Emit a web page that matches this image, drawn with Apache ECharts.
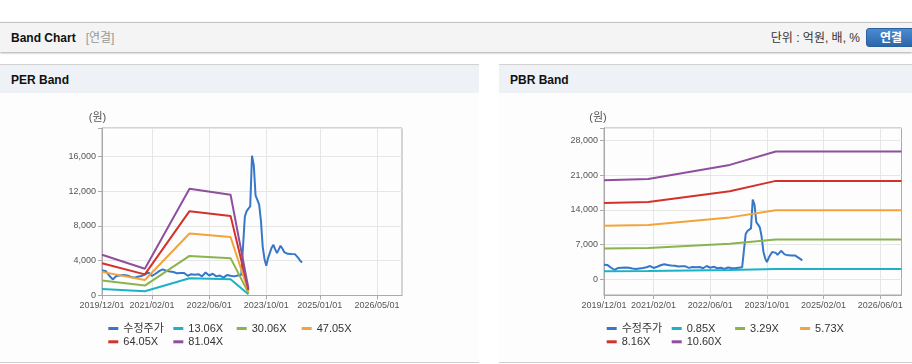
<!DOCTYPE html>
<html><head><meta charset="utf-8">
<script src="https://cdn.jsdelivr.net/npm/echarts@6/dist/echarts.min.js"></script>
<style>
html,body{margin:0;padding:0;width:912px;height:364px;overflow:hidden;background:#fff;font-family:'Liberation Sans','Noto Sans CJK KR',sans-serif;}
.abs{position:absolute;}
#topbar{left:0;top:22px;width:912px;height:29px;background:#f4f4f4;border-top:1px solid #c2c2c2;box-shadow:0 1px 2px rgba(0,0,0,0.35);}
#ttl{left:11px;top:0;height:29px;line-height:30px;font-size:12px;font-weight:bold;color:#111;white-space:nowrap;}
#ttl span{font-weight:normal;color:#999;margin-left:10px;}
#unit{right:52px;top:0;height:29px;line-height:30px;font-size:12px;color:#333;white-space:nowrap;}
#btn{left:866px;top:5px;width:50px;height:19px;line-height:19px;border-radius:3px;background:linear-gradient(#4b8bd1,#2b66ab);border:1px solid #2a5f9e;color:#fff;font-weight:bold;font-size:12px;text-align:center;box-sizing:border-box;}
.phead{top:64px;height:28px;background:#eef1f6;border-top:1px solid #d2d2d2;}
.phead div{position:absolute;left:11px;top:0;line-height:30px;font-size:12px;font-weight:bold;color:#111;}
.pbody{top:93px;height:269px;background:#fdfdfd;border-bottom:1px solid #cfcfcf;}
#chart{left:0;top:0;width:912px;height:364px;}
</style></head>
<body>
<div id="topbar" class="abs"><div id="ttl" class="abs">Band Chart<span>[연결]</span></div><div id="unit" class="abs">단위 : 억원, 배, %</div><div id="btn" class="abs" style="left:866px">연결</div></div>
<div class="abs phead" style="left:0;width:479px"><div>PER Band</div></div>
<div class="abs phead" style="left:499px;width:413px"><div>PBR Band</div></div>
<div class="abs pbody" style="left:0;width:479px"></div>
<div class="abs pbody" style="left:499px;width:413px"></div>
<div id="chart" class="abs"></div>
<script>
// ---------- data ----------
const perTickLabels = ['2019/12/01','2021/02/01','2022/06/01','2023/10/01','2025/01/01','2026/05/01'];
const pbrTickLabels = ['2019/12/01','2021/02/01','2022/06/01','2023/10/01','2025/02/01','2026/06/01'];
const priceName = '수정주가';
const price = [
 ['2019/12/01',2880],['2020/01/01',2830],['2020/02/01',2300],['2020/03/01',1850],['2020/04/01',2250],['2020/05/01',2300],
 ['2020/06/01',2350],['2020/07/01',2300],['2020/08/01',2150],['2020/09/01',2050],['2020/10/01',2150],['2020/11/01',2250],
 ['2020/12/01',2400],['2021/01/01',2650],['2021/02/01',2250],['2021/03/01',2500],['2021/04/01',2800],['2021/05/01',3000],
 ['2021/06/01',2850],['2021/07/01',2750],['2021/08/01',2700],['2021/09/01',2550],['2021/10/01',2600],['2021/11/01',2580],
 ['2021/12/01',2270],['2022/01/01',2450],['2022/02/01',2400],['2022/03/01',2450],['2022/04/01',2200],['2022/05/01',2650],
 ['2022/06/01',2300],['2022/07/01',2500],['2022/08/01',2200],['2022/09/01',2300],['2022/10/01',2050],['2022/11/01',2350],
 ['2022/12/01',2270],['2023/01/01',2200],['2023/02/01',2300],['2023/03/01',2380],['2023/03/16',2400],['2023/04/01',9090],
 ['2023/04/16',9700],['2023/05/01',10000],['2023/05/16',10250],['2023/06/01',16080],['2023/06/16',15000],['2023/07/01',11500],
 ['2023/07/16',11000],['2023/08/01',10450],['2023/08/16',8600],['2023/09/01',5600],['2023/09/16',4200],['2023/10/01',3420],
 ['2023/10/16',4300],['2023/11/01',4900],['2023/11/16',5500],['2023/12/01',5830],['2023/12/16',5300],['2024/01/01',4880],
 ['2024/01/16',5300],['2024/02/01',5720],['2024/02/16',5400],['2024/03/01',5000],['2024/03/16',4900],['2024/04/01',4800],
 ['2024/04/16',4780],['2024/05/01',4770],['2024/05/16',4760],['2024/06/01',4760],['2024/06/16',4600],['2024/07/01',4300],
 ['2024/07/16',4000],['2024/08/01',3800]
];
// PER band vertices
const perBandDates = ['2019/12/01','2020/12/01','2021/12/16','2022/12/01','2023/05/01'];
const perNames = ['13.06X','30.06X','47.05X','64.05X','81.04X'];
const per1306 = [755, 495, 1979, 1868, 131];
const per3006 = [1737, 1139, 4554, 4299, 301];
const per4705 = [2719, 1783, 7128, 6728, 470];
const per6405 = [3702, 2427, 9704, 9159, 640];
const per8104 = [4684, 3071, 12277, 11589, 810];
// PBR band vertices
const pbrBandDates = ['2019/12/01','2020/12/16','2022/11/16','2023/12/16','2026/12/01'];
const pbrNames = ['0.85X','3.29X','5.73X','8.16X','10.60X'];
const pbr085 = [1600, 1619, 1849, 2066, 2066];
const pbr329 = [6192, 6267, 7156, 7995, 7995];
const pbr573 = [10784, 10916, 12463, 13924, 13924];
const pbr816 = [15357, 15545, 17748, 19829, 19829];
const pbr1060 = [19949, 20193, 23055, 25758, 25758];

// ---------- categories: half-month steps 2019/12/01 .. 2026/12/01 ----------
const categories = [];
for (let k = 0; k <= 168; k++) {
  const m = Math.floor(k / 2);
  const tot = 2019 * 12 + 11 + m;
  const y = Math.floor(tot / 12), mo = tot % 12 + 1;
  categories.push(y + '/' + String(mo).padStart(2, '0') + '/' + (k % 2 ? '16' : '01'));
}

const FONT = "'Liberation Sans','Noto Sans CJK KR',sans-serif";
const colors = ['#3677c9', '#1cb2c6', '#8bb34e', '#f2a43a', '#d2322b', '#8e4f9e'];
const zip = (d, v) => d.map((x, i) => [x, v[i]]);
const fmt = v => v.toLocaleString('en-US');

function xAxisFor(gridIndex, ticks) {
  const f = (i, v) => ticks.indexOf(v) >= 0;
  return {
    type: 'category', gridIndex, data: categories, boundaryGap: false,
    axisLine: { show: true, onZero: false, lineStyle: { color: '#aaaaaa' } },
    axisTick: { show: true, interval: f, length: 4, lineStyle: { color: '#aaaaaa' } },
    axisLabel: { show: true, interval: f, margin: 6, fontSize: 9, color: '#555', fontFamily: FONT },
    splitLine: { show: true, interval: f, lineStyle: { color: '#e6e6e6' } }
  };
}
function lineSeries(name, data, xi, yi, color) {
  return { type: 'line', name, data, xAxisIndex: xi, yAxisIndex: yi, showSymbol: false, symbol: 'none',
    lineStyle: { width: 2, color }, itemStyle: { color }, emphasis: { disabled: true }, animation: false };
}
const legendTxt = { fontSize: 11, color: '#333', fontFamily: FONT };
function legendAt(name, left, cy) {
  return { data: [name], left, top: cy - 7, padding: 0, icon: 'rect', itemWidth: 10, itemHeight: 3,
    selectedMode: false, textStyle: legendTxt };
}

const perBands = [per1306, per3006, per4705, per6405, per8104];
const pbrBands = [pbr085, pbr329, pbr573, pbr816, pbr1060];

const series = [];
series.push(lineSeries(priceName, price, 0, 0, colors[0]));
perBands.forEach((b, i) => series.push(lineSeries(perNames[i], zip(perBandDates, b), 0, 0, colors[i + 1])));
series.push(lineSeries(priceName, price, 1, 1, colors[0]));
pbrBands.forEach((b, i) => series.push(lineSeries(pbrNames[i], zip(pbrBandDates, b), 1, 1, colors[i + 1])));

const perLegendNames = [priceName].concat(perNames);
const pbrLegendNames = [priceName].concat(pbrNames);
const colX = [0, 65, 128.4, 193.4, 0, 65];
const rowY = [330, 330, 330, 330, 343.3, 343.3];
const legends = [];
perLegendNames.forEach((n, i) => legends.push(legendAt(n, 108.3 + colX[i], rowY[i])));
pbrLegendNames.forEach((n, i) => legends.push(legendAt(n, 606.7 + colX[i], rowY[i])));

const yLabel = { fontSize: 9, color: '#555', fontFamily: FONT, margin: 6 };
const nameStyle = { fontSize: 11, color: '#555', fontFamily: FONT, align: 'center' };

const option = {
  animation: false,
  grid: [
    { left: 102, top: 128, width: 300, height: 167.5, show: true, borderColor: '#aaaaaa', borderWidth: 1, backgroundColor: 'transparent' },
    { left: 604, top: 128, width: 297.5, height: 167, show: true, borderColor: '#aaaaaa', borderWidth: 1, backgroundColor: 'transparent' },
    { left: 604, top: 128, width: 297.5, height: 167 * 30500 / 33700, show: false }
  ],
  xAxis: [
    xAxisFor(0, perTickLabels),
    xAxisFor(1, pbrTickLabels),
    { type: 'value', gridIndex: 2, min: 0, max: 1, show: false }
  ],
  yAxis: [
    { type: 'value', gridIndex: 0, min: 0, max: 19270, interval: 4000,
      name: '(원)', nameLocation: 'end', nameGap: 5, nameTextStyle: Object.assign({ padding: [0, 9, 0, 0] }, nameStyle),
      axisLine: { show: true, lineStyle: { color: '#aaaaaa' } },
      axisTick: { show: true, length: 4, lineStyle: { color: '#aaaaaa' } },
      axisLabel: Object.assign({ formatter: v => (v % 4000 === 0 ? fmt(v) : '') }, yLabel),
      splitLine: { show: true, lineStyle: { color: '#e6e6e6' } } },
    { type: 'value', gridIndex: 1, min: -3200, max: 30500,
      name: '(원)', nameLocation: 'end', nameGap: 5, nameTextStyle: Object.assign({ padding: [0, 12, 0, 0] }, nameStyle),
      axisLine: { show: true, lineStyle: { color: '#aaaaaa' } },
      axisTick: { show: false }, axisLabel: { show: false }, splitLine: { show: false } },
    { type: 'value', gridIndex: 2, min: 0, max: 30500, interval: 7000,
      axisLine: { show: false },
      axisTick: { show: true, length: 4, lineStyle: { color: '#aaaaaa' } },
      axisLabel: Object.assign({ formatter: v => (v % 7000 === 0 ? fmt(v) : '') }, yLabel),
      splitLine: { show: true, lineStyle: { color: '#e6e6e6' } } }
  ],
  legend: legends,
  series
};
const chart = echarts.init(document.getElementById('chart'), null, { renderer: 'canvas' });
chart.setOption(option);
</script>
</body></html>
